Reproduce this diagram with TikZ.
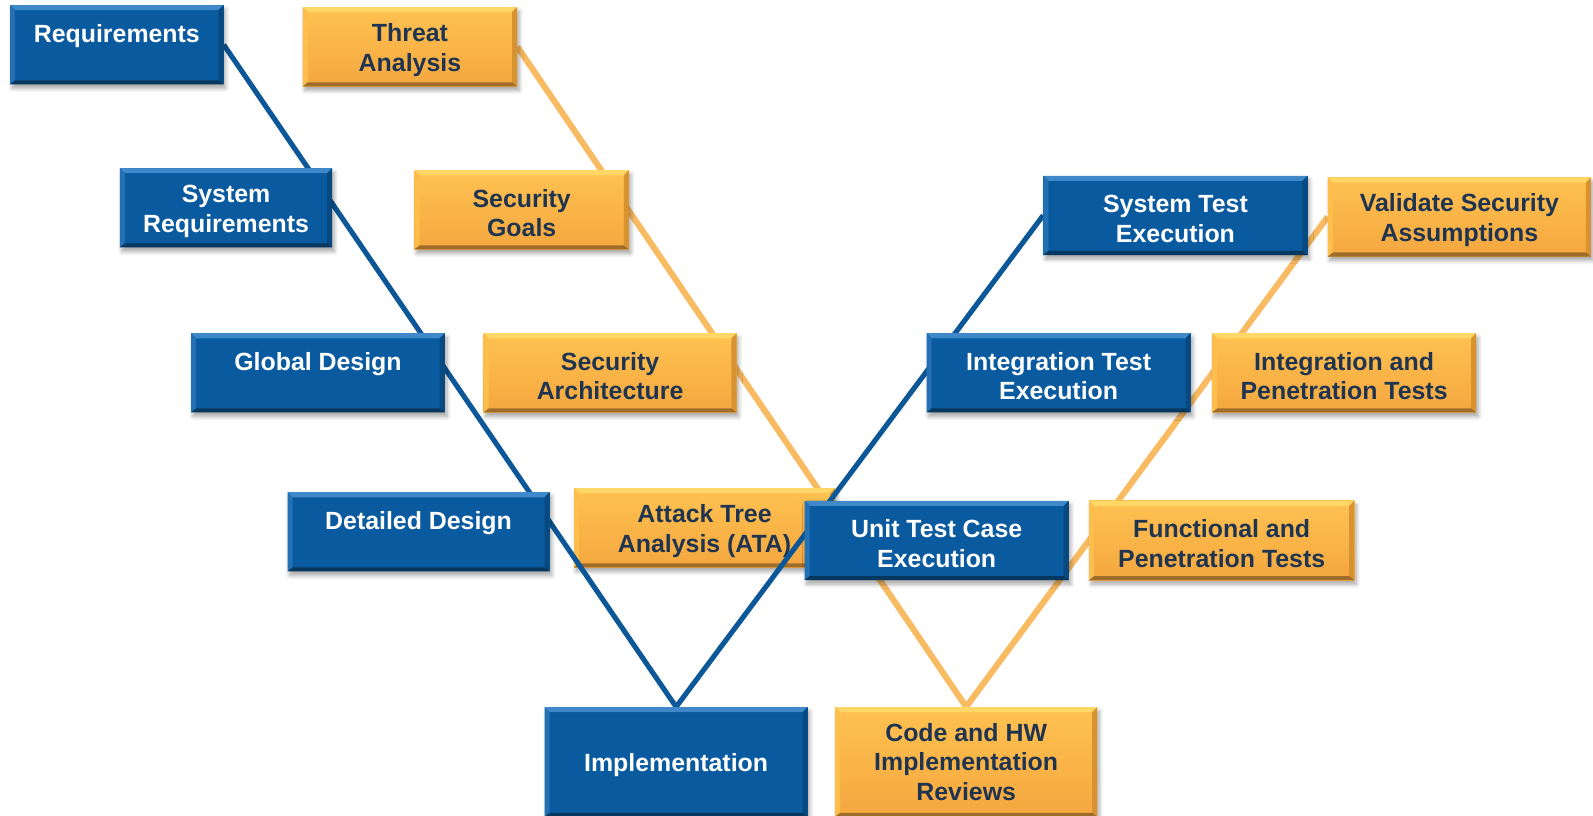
\documentclass[tikz,border=0pt]{standalone}
\usepackage{fontspec}
\setmainfont{Liberation Sans}
\usetikzlibrary{shadows,shadows.blur}

% palette
\definecolor{vblue}{HTML}{0A5AA0}
\definecolor{vbtop}{HTML}{3F88C9}
\definecolor{vbleft}{HTML}{2470B4}
\definecolor{vbright}{HTML}{08497F}
\definecolor{vbbot}{HTML}{06375F}
\definecolor{otop}{HTML}{FFC251}
\definecolor{obot}{HTML}{F4A73F}
\definecolor{obtop}{HTML}{FFD766}
\definecolor{obleft}{HTML}{FDBE4C}
\definecolor{obright}{HTML}{D8922F}
\definecolor{obbot}{HTML}{9E6C2B}
\definecolor{otext}{HTML}{1E3450}
\definecolor{blueline}{HTML}{0B5797}
\definecolor{orangeline}{HTML}{F9BB62}

% taller first line, pushes the label block slightly down
\newcommand\tstrut{\rule{0pt}{24pt}}

\pgfdeclarelayer{orangepath}
\pgfdeclarelayer{orangestage}
\pgfdeclarelayer{bluepath}
\pgfsetlayers{orangepath,orangestage,bluepath,main}

\tikzset{
  % flat bevel drawn inside a rectangular node
  bevel/.style n args={4}{path picture={
    \path (path picture bounding box.north west) coordinate (p1)
          (path picture bounding box.north east) coordinate (p2)
          (path picture bounding box.south east) coordinate (p3)
          (path picture bounding box.south west) coordinate (p4);
    \path ([shift={(5pt,-5pt)}]p1) coordinate (q1)
          ([shift={(-5pt,-5pt)}]p2) coordinate (q2)
          ([shift={(-5pt,4pt)}]p3) coordinate (q3)
          ([shift={(5pt,4pt)}]p4) coordinate (q4);
    \fill[#1] (p1)--(p2)--(q2)--(q1)--cycle;
    \fill[#2] (p1)--(q1)--(q4)--(p4)--cycle;
    \fill[#3] (p2)--(p3)--(q3)--(q2)--cycle;
    \fill[#4] (p4)--(q4)--(q3)--(p3)--cycle;
  }},
  stage/.style={rectangle, inner sep=0pt, align=center,
    font=\bfseries\fontsize{24.5}{29}\selectfont, minimum height=78pt,
    blur shadow={shadow xshift=2pt, shadow yshift=-4pt, shadow opacity=35,
      shadow blur radius=4pt, shadow blur steps=6}},
  bluestage/.style={stage, fill=vblue, text=white,
    bevel={vbtop}{vbleft}{vbright}{vbbot}},
  orangestage/.style={stage, top color=otop, bottom color=obot, text=otext,
    bevel={obtop}{obleft}{obright}{obbot}},
  bluelink/.style={draw=blueline, line width=5pt, line join=miter},
  orangelink/.style={draw=orangeline, line width=6pt, line join=miter},
}

\begin{document}
\begin{tikzpicture}[x=1pt, y=-1pt]
\useasboundingbox (0,0) rectangle (1568,803);

% development stages (left and bottom of the V, then the test side)
\node[bluestage, minimum width=210pt] (req)    at (115,44)    {\tstrut Requirements\\\mbox{}};
\node[bluestage, minimum width=209pt] (sysreq) at (222.5,204.5) {\tstrut System\\Requirements};
\node[bluestage, minimum width=250pt] (glob)   at (313,367)   {\tstrut Global Design\\\mbox{}};
\node[bluestage, minimum width=258pt] (det)    at (412,523.5) {\tstrut Detailed Design\\\mbox{}};
\node[bluestage, minimum width=259pt, minimum height=108pt] (impl) at (665.5,750) {\tstrut Implementation};
\node[bluestage, minimum width=260pt] (unit)   at (922,532)   {\tstrut Unit Test Case\\Execution};
\node[bluestage, minimum width=260pt] (itest)  at (1042,367)  {\tstrut Integration Test\\Execution};
\node[bluestage, minimum width=260pt] (stest)  at (1157,212)  {\tstrut System Test\\Execution};

% security activities
\begin{pgfonlayer}{orangestage}
\node[orangestage, minimum width=211pt] (threat) at (403.5,46)  {\tstrut Threat\\Analysis};
\node[orangestage, minimum width=211pt] (goals)  at (513.5,206.5) {\tstrut Security\\Goals};
\node[orangestage, minimum width=249pt] (arch)   at (600.5,367) {\tstrut Security\\Architecture};
\node[orangestage, minimum width=257pt] (ata)    at (693.5,519.5) {\tstrut Attack Tree\\Analysis (ATA)};
\node[orangestage, minimum width=258pt, minimum height=108pt] (code) at (951,750) {Code and HW\\Implementation\\Reviews};
\node[orangestage, minimum width=261pt] (func)   at (1202.5,532) {\tstrut Functional and\\Penetration Tests};
\node[orangestage, minimum width=260pt] (ipen)   at (1323,367)  {\tstrut Integration and\\Penetration Tests};
\node[orangestage, minimum width=259pt] (valid)  at (1436.5,213.5) {\tstrut Validate Security\\Assumptions};
\end{pgfonlayer}

% the two V paths
\begin{pgfonlayer}{orangepath}
\draw[orangelink] (threat.east) -- (code.north) -- (valid.west);
\end{pgfonlayer}
\begin{pgfonlayer}{bluepath}
\draw[bluelink] (req.east) -- (impl.north) -- (stest.west);
\end{pgfonlayer}
\end{tikzpicture}
\end{document}
